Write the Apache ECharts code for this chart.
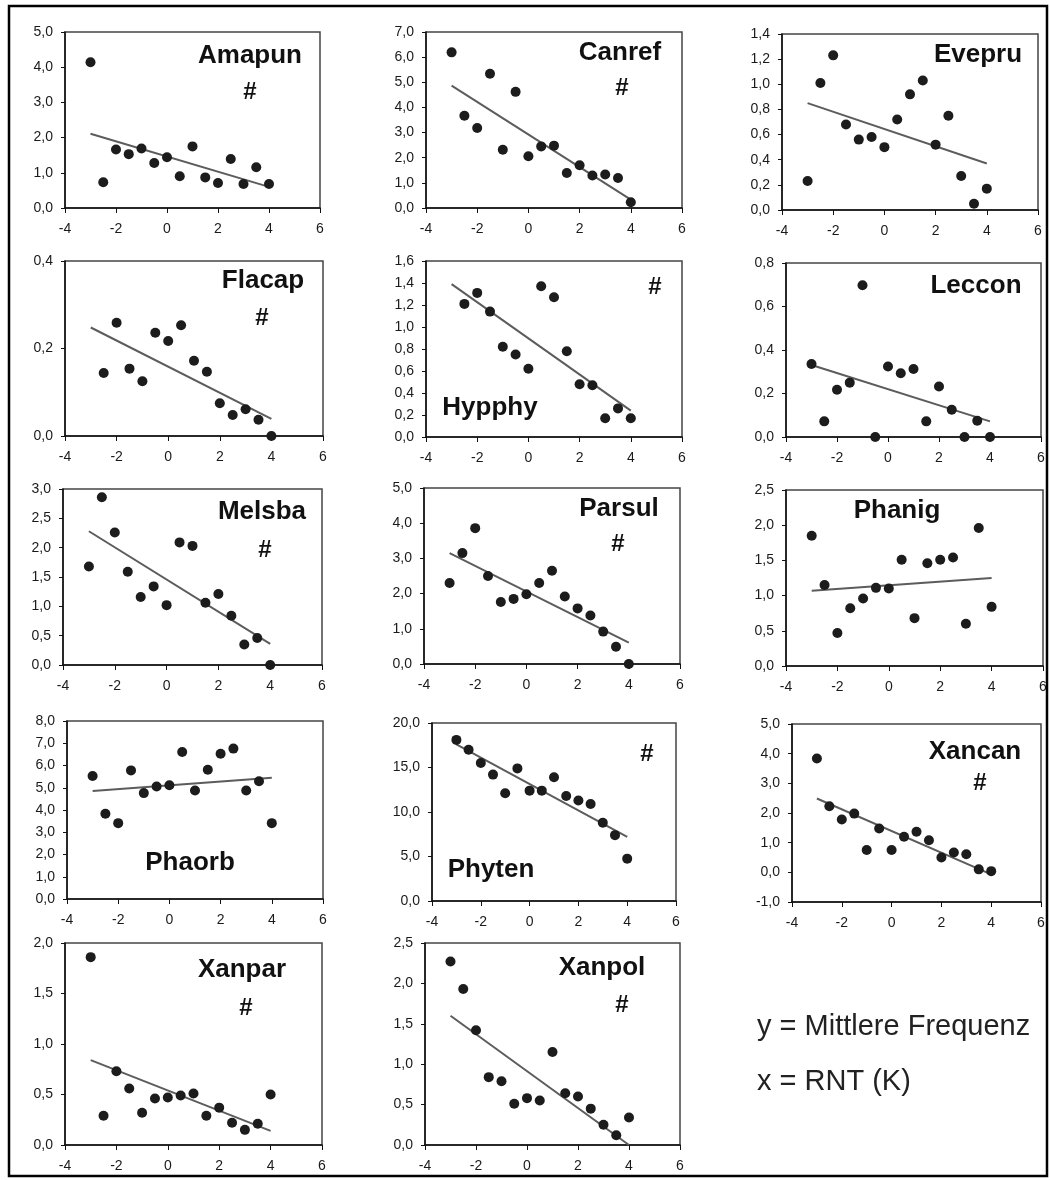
<!DOCTYPE html>
<html>
<head>
<meta charset="utf-8">
<title>Mittlere Frequenz vs RNT</title>
<script src="https://cdn.jsdelivr.net/npm/echarts@6/dist/echarts.min.js"></script>
<style>
  html, body { margin: 0; padding: 0; background: #fff; }
  #chart { width: 1050px; height: 1180px; }
</style>
</head>
<body>
<div id="chart"></div>
<script>
// x positions (RNT, K) shared by all panels
const xValues = [-3, -2.5, -2, -1.5, -1, -0.5, 0, 0.5, 1, 1.5, 2, 2.5, 3, 3.5, 4];
const xTicks = [-4, 6, 2]; // min, max, step

const speciesNames = ['Amapun', 'Canref', 'Evepru', 'Flacap', 'Hypphy', 'Leccon', 'Melsba',
  'Parsul', 'Phanig', 'Phaorb', 'Phyten', 'Xancan', 'Xanpar', 'Xanpol'];

// mean frequency per species (null = no point)
const amapun = [4.14, 0.73, 1.66, 1.53, 1.69, 1.28, 1.44, 0.90, 1.75, 0.87, 0.71, 1.39, 0.68, 1.16, 0.68];
const canref = [6.19, 3.67, 3.18, 5.34, 2.32, 4.62, 2.06, 2.45, 2.48, 1.39, 1.70, 1.29, 1.33, 1.19, 0.23];
const evepru = [0.23, 1.01, 1.23, 0.68, 0.56, 0.58, 0.50, 0.72, 0.92, 1.03, 0.52, 0.75, 0.27, 0.05, 0.17];
const flacap = [null, 0.144, 0.259, 0.154, 0.125, 0.236, 0.217, 0.253, 0.172, 0.147, 0.075, 0.048, 0.061, 0.037, 0.0];
const hypphy = [null, 1.21, 1.31, 1.14, 0.82, 0.75, 0.62, 1.37, 1.27, 0.78, 0.48, 0.47, 0.17, 0.26, 0.17];
const leccon = [0.336, 0.072, 0.217, 0.25, 0.698, 0.0, 0.324, 0.293, 0.313, 0.072, 0.232, 0.125, 0.0, 0.075, 0.0];
const melsba = [1.68, 2.86, 2.26, 1.59, 1.16, 1.34, 1.02, 2.09, 2.03, 1.06, 1.21, 0.84, 0.35, 0.46, 0.0];
const parsul = [2.30, 3.15, 3.86, 2.50, 1.76, 1.85, 1.98, 2.30, 2.65, 1.92, 1.58, 1.38, 0.92, 0.49, 0.0];
const phanig = [1.85, 1.15, 0.47, 0.82, 0.96, 1.11, 1.10, 1.51, 0.68, 1.46, 1.51, 1.54, 0.60, 1.96, 0.84];
const phaorb = [5.53, 3.83, 3.41, 5.78, 4.76, 5.06, 5.11, 6.61, 4.88, 5.81, 6.53, 6.76, 4.88, 5.29, 3.41];
const phyten = [18.1, 17.0, 15.5, 14.2, 12.1, 14.9, 12.4, 12.4, 13.9, 11.8, 11.3, 10.9, 8.8, 7.4, 4.76];
const xancan = [3.84, 2.23, 1.78, 1.98, 0.75, 1.48, 0.75, 1.20, 1.37, 1.08, 0.50, 0.67, 0.61, 0.10, 0.04];
const xanpar = [1.86, 0.29, 0.73, 0.56, 0.32, 0.46, 0.47, 0.49, 0.51, 0.29, 0.37, 0.22, 0.15, 0.21, 0.50];
const xanpol = [2.27, 1.93, 1.42, 0.84, 0.79, 0.51, 0.58, 0.55, 1.15, 0.64, 0.60, 0.45, 0.25, 0.12, 0.34];

// fitted line, value at x = -3 and at x = 4
const trendStart = [2.11, 4.87, 0.85, 0.248, 1.39, 0.331, 2.28, 3.15, 1.07, 4.85, 17.6, 2.49, 0.84, 1.60];
const trendEnd   = [0.60, 0.33, 0.37, 0.039, 0.24, 0.072, 0.36, 0.61, 1.25, 5.45, 7.2, -0.07, 0.14, 0.0];

// y axis range per panel
const yMin  = [0, 0, 0, 0, 0, 0, 0, 0, 0, 0, 0, -1, 0, 0];
const yMax  = [5, 7, 1.4, 0.4, 1.6, 0.8, 3, 5, 2.5, 8, 20, 5, 2, 2.5];
const yStep = [1, 1, 0.2, 0.2, 0.2, 0.2, 0.5, 1, 0.5, 1, 5, 1, 0.5, 0.5];

// significant trend marker
const significant = [true, true, false, true, true, false, true, true, false, false, true, true, true, true];

const seriesValues = [amapun, canref, evepru, flacap, hypphy, leccon, melsba,
  parsul, phanig, phaorb, phyten, xancan, xanpar, xanpol];

// layout: plot box and label positions (pixels)
const panels = [
  { l: 65,  t: 32,  w: 255, h: 176, nx: 250, ny: 56,  hx: 250, hy: 92 },
  { l: 426, t: 32,  w: 256, h: 176, nx: 620, ny: 53,  hx: 622, hy: 88 },
  { l: 782, t: 34,  w: 256, h: 176, nx: 978, ny: 55 },
  { l: 65,  t: 261, w: 258, h: 175, nx: 263, ny: 281, hx: 262, hy: 318 },
  { l: 426, t: 261, w: 256, h: 176, nx: 490, ny: 408, hx: 655, hy: 287 },
  { l: 786, t: 263, w: 255, h: 174, nx: 976, ny: 286 },
  { l: 63,  t: 489, w: 259, h: 176, nx: 262, ny: 512, hx: 265, hy: 550 },
  { l: 424, t: 488, w: 256, h: 176, nx: 619, ny: 509, hx: 618, hy: 544 },
  { l: 786, t: 490, w: 257, h: 176, nx: 897, ny: 511 },
  { l: 67,  t: 721, w: 256, h: 178, nx: 190, ny: 863 },
  { l: 432, t: 723, w: 244, h: 178, nx: 491, ny: 870, hx: 647, hy: 754 },
  { l: 792, t: 724, w: 249, h: 178, nx: 975, ny: 752, hx: 980, hy: 783 },
  { l: 65,  t: 943, w: 257, h: 202, nx: 242, ny: 970, hx: 246, hy: 1008 },
  { l: 425, t: 943, w: 255, h: 202, nx: 602, ny: 968, hx: 622, hy: 1005 }
];

const tickFont = { fontFamily: 'Liberation Sans', fontSize: 14, color: '#1a1a1a' };
const comma = v => v.toFixed(1).replace('.', ',');

const grid = [], xAxis = [], yAxis = [], series = [], graphic = [];

graphic.push({
  type: 'rect', shape: { x: 9, y: 6, width: 1038, height: 1170 },
  style: { fill: 'none', stroke: '#000', lineWidth: 2.5 }, silent: true
});

panels.forEach((p, i) => {
  grid.push({ left: p.l, top: p.t, width: p.w, height: p.h, show: true,
    borderColor: '#444', borderWidth: 1.5, backgroundColor: '#fff' });
  xAxis.push({
    gridIndex: i, type: 'value', min: xTicks[0], max: xTicks[1], interval: xTicks[2],
    axisLine: { onZero: false, lineStyle: { color: '#111', width: 1.5 } },
    axisTick: { length: 5, lineStyle: { color: '#111' } },
    splitLine: { show: false },
    axisLabel: Object.assign({ margin: 14 }, tickFont)
  });
  yAxis.push({
    gridIndex: i, type: 'value', min: yMin[i], max: yMax[i], interval: yStep[i],
    axisLine: { show: true, onZero: false, lineStyle: { color: '#111', width: 1.5 } },
    axisTick: { show: true, length: 4, lineStyle: { color: '#111' } },
    splitLine: { show: false },
    axisLabel: Object.assign({ margin: 12, formatter: comma }, tickFont)
  });
  const vals = seriesValues[i];
  series.push({
    type: 'scatter', xAxisIndex: i, yAxisIndex: i, symbolSize: 10,
    itemStyle: { color: '#1c1c1c', opacity: 1 }, z: 3,
    data: xValues.map((x, k) => [x, vals[k]]).filter(d => d[1] != null)
  });
  series.push({
    type: 'line', xAxisIndex: i, yAxisIndex: i, symbol: 'none', silent: true, z: 2,
    lineStyle: { color: '#5c5c5c', width: 2 },
    data: [[xValues[0], trendStart[i]], [xValues[xValues.length - 1], trendEnd[i]]]
  });
  graphic.push({
    type: 'text', x: p.nx, y: p.ny, z: 10,
    style: { text: speciesNames[i], font: 'bold 26px "Liberation Sans"', fill: '#111',
      align: 'center', verticalAlign: 'middle' }
  });
  if (significant[i]) {
    graphic.push({
      type: 'text', x: p.hx, y: p.hy, z: 10,
      style: { text: '#', font: 'bold 24px "Liberation Sans"', fill: '#111',
        align: 'center', verticalAlign: 'middle' }
    });
  }
});

graphic.push({
  type: 'text', x: 757, y: 1027,
  style: { text: 'y = Mittlere Frequenz', font: '29px "Liberation Sans"', fill: '#222',
    align: 'left', verticalAlign: 'middle' }
});
graphic.push({
  type: 'text', x: 757, y: 1082,
  style: { text: 'x = RNT (K)', font: '29px "Liberation Sans"', fill: '#222',
    align: 'left', verticalAlign: 'middle' }
});

const chart = echarts.init(document.getElementById('chart'));
chart.setOption({
  animation: false,
  backgroundColor: '#fff',
  grid, xAxis, yAxis, series, graphic
});
window.addEventListener('resize', () => chart.resize());
</script>
</body>
</html>
